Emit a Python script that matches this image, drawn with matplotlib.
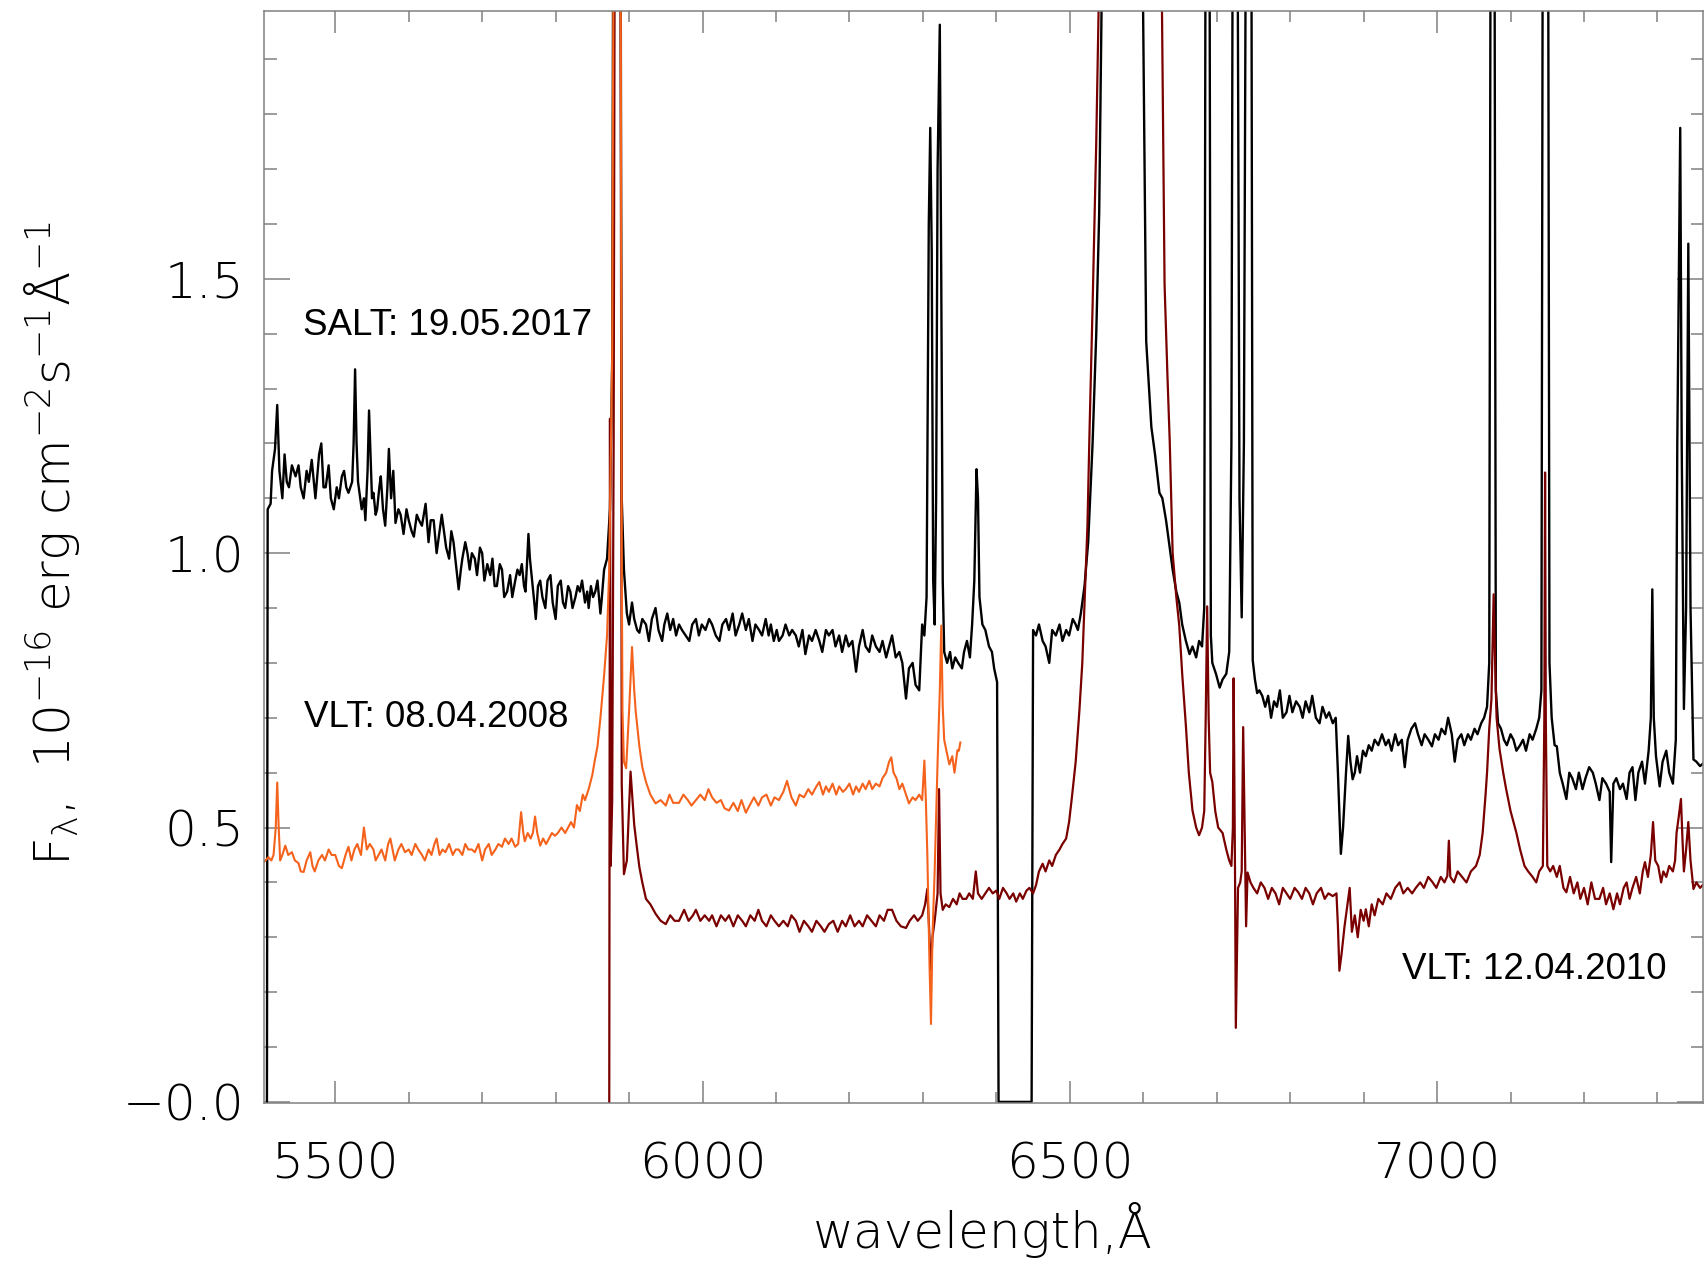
import numpy as np
import matplotlib
matplotlib.use("Agg")
import matplotlib.pyplot as plt
from matplotlib.ticker import MultipleLocator, FixedLocator, FixedFormatter

# spectra: (wavelength [A], flux [1e-16 erg cm-2 s-1 A-1])
salt_2017 = [
    (5407, 0.0), (5408, 1.08), (5412, 1.09), (5414, 1.15), (5418, 1.19), (5421, 1.27), (5424, 1.15),
    (5428, 1.10), (5431, 1.18), (5434, 1.13), (5437, 1.12), (5441, 1.16), (5446, 1.14), (5450, 1.16),
    (5453, 1.12), (5457, 1.10), (5461, 1.15), (5464, 1.13), (5468, 1.17), (5473, 1.10), (5478, 1.18),
    (5481, 1.20), (5484, 1.12), (5487, 1.12), (5491, 1.16), (5494, 1.10), (5498, 1.08), (5502, 1.12),
    (5505, 1.10), (5509, 1.14), (5512, 1.15), (5515, 1.12), (5518, 1.11), (5523, 1.13), (5525, 1.20),
    (5527, 1.335), (5529, 1.20), (5531, 1.13), (5534, 1.10), (5536, 1.08), (5539, 1.10), (5541, 1.06),
    (5544, 1.15), (5546, 1.26), (5548, 1.18), (5550, 1.10), (5552, 1.11), (5555, 1.07), (5557, 1.08),
    (5560, 1.12), (5562, 1.14), (5565, 1.08), (5568, 1.05), (5571, 1.12), (5573, 1.19), (5576, 1.10),
    (5579, 1.15), (5582, 1.055), (5586, 1.08), (5589, 1.07), (5593, 1.035), (5597, 1.08), (5600, 1.06),
    (5604, 1.04), (5607, 1.03), (5611, 1.07), (5614, 1.06), (5618, 1.05), (5623, 1.09), (5627, 1.02),
    (5630, 1.06), (5634, 1.06), (5638, 1.00), (5641, 1.03), (5645, 1.07), (5648, 1.04), (5651, 1.01),
    (5655, 0.99), (5658, 1.04), (5661, 1.02), (5665, 0.97), (5668, 0.934), (5671, 0.97), (5673, 0.99),
    (5677, 1.02), (5680, 1.00), (5683, 0.97), (5686, 1.00), (5690, 0.99), (5693, 0.96), (5697, 1.01),
    (5700, 1.00), (5703, 0.95), (5707, 0.98), (5711, 0.96), (5714, 0.99), (5717, 0.94), (5720, 0.94),
    (5724, 0.98), (5727, 0.97), (5730, 0.92), (5734, 0.93), (5738, 0.96), (5741, 0.92), (5745, 0.95),
    (5748, 0.97), (5751, 0.96), (5754, 0.98), (5757, 0.94), (5759, 0.93), (5761, 0.98), (5763, 1.035),
    (5765, 0.99), (5768, 0.95), (5771, 0.91), (5773, 0.88), (5776, 0.94), (5779, 0.95), (5782, 0.92),
    (5786, 0.90), (5789, 0.95), (5793, 0.96), (5796, 0.91), (5800, 0.88), (5803, 0.94), (5807, 0.95),
    (5810, 0.91), (5813, 0.90), (5817, 0.94), (5820, 0.93), (5823, 0.90), (5827, 0.92), (5830, 0.94),
    (5833, 0.93), (5836, 0.95), (5840, 0.91), (5843, 0.93), (5845, 0.90), (5848, 0.94), (5851, 0.92),
    (5854, 0.93), (5857, 0.95), (5861, 0.89), (5863, 0.92), (5866, 0.97), (5870, 0.99), (5874, 1.08),
    (5877, 1.35), (5879, 2.5), (5884, 2.5), (5888, 2.5), (5890, 1.10), (5893, 0.97), (5897, 0.89),
    (5900, 0.87), (5904, 0.91), (5907, 0.88), (5911, 0.86), (5914, 0.855), (5918, 0.88), (5923, 0.87),
    (5927, 0.84), (5931, 0.88), (5936, 0.90), (5940, 0.86), (5945, 0.84), (5948, 0.87), (5952, 0.89),
    (5956, 0.86), (5960, 0.88), (5964, 0.85), (5968, 0.87), (5972, 0.86), (5977, 0.85), (5982, 0.84),
    (5986, 0.87), (5991, 0.88), (5995, 0.85), (5999, 0.87), (6004, 0.86), (6009, 0.88), (6013, 0.87),
    (6018, 0.85), (6023, 0.84), (6027, 0.87), (6032, 0.88), (6036, 0.86), (6041, 0.89), (6045, 0.85),
    (6050, 0.87), (6054, 0.89), (6059, 0.86), (6063, 0.88), (6068, 0.84), (6072, 0.87), (6077, 0.86),
    (6081, 0.85), (6086, 0.88), (6090, 0.85), (6093, 0.87), (6097, 0.84), (6101, 0.86), (6104, 0.84),
    (6109, 0.85), (6113, 0.87), (6118, 0.85), (6122, 0.86), (6127, 0.85), (6131, 0.83), (6136, 0.86),
    (6140, 0.816), (6145, 0.85), (6149, 0.84), (6154, 0.86), (6159, 0.84), (6163, 0.82), (6168, 0.86),
    (6172, 0.85), (6177, 0.86), (6181, 0.83), (6186, 0.85), (6190, 0.82), (6195, 0.85), (6199, 0.83),
    (6204, 0.84), (6209, 0.784), (6213, 0.83), (6218, 0.86), (6222, 0.83), (6227, 0.82), (6231, 0.85),
    (6236, 0.83), (6241, 0.82), (6245, 0.84), (6250, 0.81), (6254, 0.83), (6258, 0.85), (6263, 0.81),
    (6268, 0.82), (6272, 0.80), (6277, 0.735), (6281, 0.79), (6286, 0.80), (6290, 0.76), (6295, 0.75),
    (6299, 0.87), (6302, 0.85), (6305, 0.92), (6308, 1.60), (6310, 1.775), (6312, 1.55), (6314, 0.95),
    (6316, 0.87), (6318, 1.10), (6320, 1.70), (6323, 1.963), (6325, 1.50), (6327, 0.95), (6329, 0.82),
    (6333, 0.80), (6337, 0.82), (6340, 0.79), (6344, 0.81), (6348, 0.80), (6353, 0.79), (6356, 0.82),
    (6360, 0.84), (6364, 0.81), (6367, 0.87), (6370, 0.95), (6373, 1.153), (6375, 1.10), (6377, 0.92),
    (6381, 0.87), (6385, 0.86), (6390, 0.83), (6394, 0.82), (6397, 0.79), (6401, 0.765), (6403, 0.0),
    (6448, 0.0), (6450, 0.86), (6454, 0.85), (6458, 0.87), (6463, 0.84), (6467, 0.83), (6472, 0.80),
    (6476, 0.86), (6481, 0.85), (6486, 0.87), (6490, 0.84), (6495, 0.86), (6499, 0.85), (6504, 0.88),
    (6508, 0.87), (6511, 0.86), (6515, 0.89), (6520, 0.94), (6525, 1.02), (6531, 1.20), (6536, 1.40),
    (6540, 1.62), (6545, 2.2), (6560, 3.0), (6590, 3.0), (6599, 2.1), (6604, 1.386), (6611, 1.23),
    (6616, 1.18), (6622, 1.11), (6626, 1.10), (6631, 1.06), (6635, 1.02), (6640, 0.97), (6645, 0.93),
    (6649, 0.91), (6653, 0.87), (6658, 0.84), (6663, 0.816), (6667, 0.83), (6672, 0.81), (6676, 0.84),
    (6680, 0.83), (6683, 0.90), (6685, 2.3), (6690, 2.3), (6692, 0.85), (6694, 0.80), (6699, 0.78),
    (6704, 0.755), (6708, 0.77), (6713, 0.78), (6717, 0.82), (6720, 1.20), (6722, 2.3), (6728, 2.3),
    (6731, 1.10), (6734, 0.883), (6737, 1.20), (6740, 2.3), (6747, 2.3), (6749, 0.805), (6752, 0.77),
    (6755, 0.745), (6758, 0.75), (6762, 0.74), (6766, 0.72), (6770, 0.74), (6774, 0.70), (6778, 0.73),
    (6782, 0.72), (6786, 0.75), (6790, 0.70), (6795, 0.71), (6799, 0.74), (6803, 0.71), (6808, 0.73),
    (6813, 0.72), (6817, 0.70), (6821, 0.73), (6826, 0.71), (6830, 0.74), (6835, 0.70), (6840, 0.69),
    (6844, 0.72), (6849, 0.70), (6853, 0.71), (6858, 0.69), (6862, 0.70), (6865, 0.60), (6869, 0.452),
    (6872, 0.50), (6876, 0.60), (6879, 0.667), (6882, 0.62), (6885, 0.588), (6888, 0.60), (6891, 0.63),
    (6895, 0.60), (6899, 0.64), (6903, 0.63), (6907, 0.65), (6911, 0.64), (6915, 0.66), (6920, 0.65),
    (6925, 0.67), (6930, 0.65), (6934, 0.66), (6938, 0.64), (6943, 0.67), (6947, 0.65), (6952, 0.66),
    (6956, 0.61), (6960, 0.66), (6965, 0.68), (6970, 0.69), (6974, 0.67), (6979, 0.65), (6983, 0.67),
    (6988, 0.66), (6993, 0.648), (6997, 0.67), (7002, 0.66), (7006, 0.68), (7011, 0.67), (7015, 0.70),
    (7020, 0.67), (7024, 0.62), (7028, 0.66), (7033, 0.67), (7037, 0.65), (7042, 0.67), (7046, 0.66),
    (7051, 0.68), (7055, 0.67), (7060, 0.69), (7064, 0.70), (7068, 0.72), (7071, 0.80), (7073, 2.3),
    (7078, 2.3), (7080, 0.75), (7083, 0.69), (7087, 0.68), (7091, 0.66), (7095, 0.65), (7100, 0.67),
    (7104, 0.66), (7108, 0.64), (7113, 0.65), (7117, 0.66), (7121, 0.64), (7126, 0.67), (7130, 0.66),
    (7135, 0.68), (7139, 0.70), (7142, 0.75), (7144, 2.3), (7151, 2.3), (7153, 0.80), (7156, 0.70),
    (7160, 0.65), (7163, 0.648), (7167, 0.60), (7171, 0.58), (7176, 0.552), (7180, 0.60), (7184, 0.59),
    (7189, 0.57), (7193, 0.60), (7198, 0.57), (7202, 0.59), (7207, 0.61), (7212, 0.60), (7216, 0.58),
    (7221, 0.55), (7225, 0.59), (7230, 0.58), (7235, 0.565), (7237, 0.437), (7240, 0.58), (7244, 0.59),
    (7249, 0.57), (7253, 0.58), (7258, 0.552), (7262, 0.60), (7266, 0.61), (7270, 0.55), (7274, 0.60),
    (7279, 0.62), (7283, 0.58), (7288, 0.64), (7291, 0.70), (7293, 0.934), (7295, 0.70), (7298, 0.63),
    (7303, 0.575), (7307, 0.62), (7312, 0.64), (7316, 0.60), (7321, 0.58), (7325, 0.66), (7327, 1.20),
    (7331, 1.775), (7333, 1.20), (7336, 0.716), (7339, 0.90), (7342, 1.564), (7345, 0.90), (7349, 0.624),
    (7353, 0.62), (7358, 0.612), (7365, 0.62),
]

vlt_2010 = [
    (5873, -0.02), (5874, 1.245), (5875, 0.43), (5877, 0.55), (5879, 1.2), (5881, 2.5), (5888, 2.5),
    (5890, 0.58), (5893, 0.415), (5897, 0.44), (5902, 0.602), (5907, 0.505), (5911, 0.46), (5914, 0.428),
    (5918, 0.40), (5923, 0.37), (5929, 0.36), (5936, 0.343), (5943, 0.33), (5950, 0.324), (5956, 0.34),
    (5962, 0.33), (5968, 0.33), (5975, 0.35), (5981, 0.33), (5987, 0.34), (5991, 0.35), (5997, 0.33),
    (6003, 0.34), (6009, 0.33), (6013, 0.34), (6019, 0.32), (6025, 0.34), (6031, 0.33), (6036, 0.34),
    (6042, 0.32), (6048, 0.34), (6054, 0.33), (6059, 0.32), (6065, 0.34), (6071, 0.33), (6076, 0.35),
    (6081, 0.33), (6087, 0.32), (6093, 0.34), (6098, 0.33), (6104, 0.32), (6110, 0.33), (6116, 0.32),
    (6121, 0.34), (6127, 0.33), (6132, 0.31), (6138, 0.33), (6144, 0.32), (6149, 0.31), (6155, 0.33),
    (6161, 0.32), (6166, 0.31), (6172, 0.324), (6178, 0.33), (6184, 0.31), (6190, 0.33), (6195, 0.32),
    (6201, 0.34), (6207, 0.32), (6213, 0.33), (6218, 0.32), (6224, 0.34), (6230, 0.33), (6236, 0.32),
    (6241, 0.34), (6247, 0.33), (6252, 0.35), (6258, 0.35), (6264, 0.33), (6270, 0.32), (6277, 0.317),
    (6282, 0.33), (6288, 0.34), (6293, 0.33), (6299, 0.34), (6303, 0.36), (6306, 0.388), (6309, 0.30),
    (6311, 0.24), (6313, 0.30), (6316, 0.33), (6320, 0.38), (6322, 0.57), (6324, 0.38), (6327, 0.35),
    (6331, 0.36), (6336, 0.355), (6341, 0.37), (6346, 0.36), (6350, 0.38), (6354, 0.37), (6359, 0.37),
    (6363, 0.38), (6368, 0.37), (6372, 0.42), (6375, 0.38), (6380, 0.37), (6385, 0.38), (6390, 0.39),
    (6395, 0.38), (6400, 0.385), (6404, 0.37), (6409, 0.39), (6414, 0.38), (6418, 0.37), (6423, 0.38),
    (6427, 0.365), (6432, 0.38), (6436, 0.37), (6441, 0.385), (6445, 0.39), (6450, 0.38), (6454, 0.395),
    (6458, 0.42), (6463, 0.434), (6467, 0.42), (6472, 0.44), (6476, 0.43), (6481, 0.45), (6486, 0.46),
    (6490, 0.47), (6495, 0.48), (6499, 0.51), (6503, 0.557), (6508, 0.62), (6513, 0.712), (6517, 0.80),
    (6520, 0.907), (6524, 1.05), (6527, 1.231), (6531, 1.45), (6536, 1.75), (6542, 2.2), (6560, 3.0),
    (6610, 3.0), (6624, 2.2), (6629, 1.49), (6633, 1.32), (6636, 1.205), (6640, 1.0), (6645, 0.92),
    (6649, 0.868), (6653, 0.78), (6658, 0.686), (6662, 0.60), (6667, 0.531), (6672, 0.50), (6676, 0.486),
    (6680, 0.50), (6683, 0.53), (6685, 0.70), (6687, 0.903), (6689, 0.70), (6691, 0.60), (6694, 0.583),
    (6698, 0.53), (6702, 0.50), (6708, 0.49), (6713, 0.46), (6717, 0.44), (6720, 0.43), (6722, 0.50),
    (6723, 0.772), (6725, 0.40), (6726, 0.135), (6728, 0.30), (6729, 0.39), (6732, 0.40), (6734, 0.42),
    (6736, 0.683), (6738, 0.50), (6740, 0.32), (6742, 0.418), (6746, 0.40), (6750, 0.39), (6755, 0.38),
    (6760, 0.40), (6765, 0.39), (6770, 0.37), (6775, 0.39), (6780, 0.38), (6785, 0.36), (6790, 0.39),
    (6795, 0.38), (6800, 0.37), (6806, 0.39), (6811, 0.382), (6816, 0.37), (6821, 0.39), (6826, 0.38),
    (6831, 0.36), (6836, 0.38), (6842, 0.39), (6847, 0.37), (6852, 0.38), (6858, 0.375), (6863, 0.38),
    (6865, 0.32), (6867, 0.239), (6870, 0.27), (6874, 0.32), (6878, 0.36), (6881, 0.39), (6884, 0.31),
    (6888, 0.34), (6892, 0.30), (6896, 0.35), (6900, 0.33), (6903, 0.351), (6907, 0.32), (6911, 0.36),
    (6915, 0.34), (6920, 0.37), (6926, 0.36), (6931, 0.38), (6937, 0.37), (6943, 0.39), (6949, 0.40),
    (6954, 0.38), (6960, 0.39), (6966, 0.38), (6971, 0.39), (6977, 0.40), (6982, 0.39), (6988, 0.41),
    (6994, 0.40), (6999, 0.39), (7005, 0.41), (7010, 0.40), (7014, 0.412), (7016, 0.476), (7018, 0.41),
    (7023, 0.40), (7028, 0.42), (7034, 0.41), (7040, 0.40), (7046, 0.42), (7053, 0.43), (7058, 0.45),
    (7062, 0.49), (7066, 0.56), (7068, 0.60), (7071, 0.68), (7074, 0.734), (7077, 0.925), (7079, 0.80),
    (7081, 0.70), (7085, 0.643), (7090, 0.60), (7094, 0.57), (7100, 0.53), (7108, 0.49), (7113, 0.46),
    (7119, 0.43), (7124, 0.42), (7130, 0.41), (7135, 0.40), (7139, 0.42), (7144, 0.43), (7146, 0.70),
    (7147, 1.147), (7148, 0.70), (7150, 0.43), (7154, 0.42), (7158, 0.43), (7163, 0.41), (7167, 0.43),
    (7172, 0.39), (7176, 0.382), (7181, 0.41), (7186, 0.38), (7191, 0.40), (7195, 0.37), (7200, 0.39),
    (7205, 0.36), (7210, 0.40), (7215, 0.37), (7221, 0.37), (7226, 0.39), (7230, 0.36), (7235, 0.38),
    (7240, 0.351), (7245, 0.38), (7249, 0.36), (7254, 0.39), (7258, 0.40), (7262, 0.37), (7266, 0.39),
    (7271, 0.41), (7276, 0.38), (7280, 0.42), (7283, 0.437), (7287, 0.41), (7291, 0.45), (7294, 0.51),
    (7297, 0.44), (7301, 0.43), (7305, 0.40), (7308, 0.42), (7312, 0.41), (7316, 0.43), (7321, 0.42),
    (7324, 0.44), (7326, 0.49), (7329, 0.52), (7332, 0.552), (7334, 0.48), (7336, 0.42), (7339, 0.46),
    (7342, 0.51), (7345, 0.44), (7349, 0.388), (7353, 0.40), (7358, 0.39), (7365, 0.40),
]

vlt_2008 = [
    (5400, 0.433), (5405, 0.44), (5409, 0.446), (5413, 0.44), (5416, 0.45), (5419, 0.50), (5421, 0.582),
    (5423, 0.50), (5425, 0.44), (5428, 0.45), (5432, 0.467), (5436, 0.45), (5441, 0.455), (5445, 0.44),
    (5450, 0.435), (5453, 0.42), (5457, 0.419), (5461, 0.44), (5466, 0.455), (5469, 0.43), (5472, 0.42),
    (5477, 0.44), (5482, 0.45), (5486, 0.44), (5491, 0.46), (5495, 0.45), (5500, 0.45), (5505, 0.43),
    (5509, 0.426), (5514, 0.45), (5518, 0.465), (5522, 0.44), (5526, 0.46), (5530, 0.47), (5535, 0.45),
    (5539, 0.50), (5543, 0.46), (5547, 0.47), (5552, 0.46), (5555, 0.44), (5559, 0.45), (5563, 0.46),
    (5568, 0.44), (5572, 0.47), (5575, 0.48), (5578, 0.46), (5581, 0.44), (5586, 0.46), (5590, 0.47),
    (5595, 0.455), (5600, 0.46), (5604, 0.45), (5609, 0.47), (5613, 0.46), (5618, 0.45), (5622, 0.44),
    (5627, 0.46), (5631, 0.45), (5635, 0.47), (5638, 0.48), (5642, 0.45), (5646, 0.46), (5650, 0.455),
    (5655, 0.47), (5660, 0.45), (5664, 0.46), (5668, 0.46), (5673, 0.45), (5677, 0.47), (5681, 0.46),
    (5686, 0.46), (5690, 0.455), (5695, 0.47), (5700, 0.44), (5704, 0.46), (5709, 0.47), (5713, 0.45),
    (5718, 0.46), (5722, 0.47), (5727, 0.465), (5731, 0.48), (5736, 0.47), (5740, 0.48), (5745, 0.465),
    (5749, 0.47), (5753, 0.528), (5756, 0.49), (5758, 0.475), (5762, 0.49), (5766, 0.48), (5769, 0.49),
    (5772, 0.52), (5775, 0.49), (5779, 0.467), (5783, 0.48), (5787, 0.47), (5791, 0.48), (5795, 0.49),
    (5799, 0.485), (5803, 0.49), (5808, 0.50), (5813, 0.49), (5817, 0.50), (5821, 0.51), (5825, 0.50),
    (5829, 0.541), (5833, 0.53), (5837, 0.56), (5840, 0.55), (5845, 0.57), (5850, 0.596), (5853, 0.62),
    (5857, 0.648), (5861, 0.70), (5866, 0.777), (5870, 0.85), (5873, 0.972), (5877, 1.36), (5879, 2.2),
    (5881, 2.5), (5888, 2.5), (5890, 1.0), (5891, 0.712), (5893, 0.62), (5896, 0.608), (5900, 0.712),
    (5904, 0.829), (5907, 0.75), (5909, 0.712), (5914, 0.648), (5918, 0.61), (5923, 0.583), (5929, 0.56),
    (5936, 0.544), (5943, 0.55), (5950, 0.54), (5955, 0.56), (5960, 0.545), (5968, 0.545), (5974, 0.56),
    (5980, 0.55), (5985, 0.54), (5991, 0.55), (5997, 0.56), (6003, 0.55), (6008, 0.57), (6013, 0.555),
    (6019, 0.545), (6025, 0.55), (6030, 0.535), (6036, 0.531), (6042, 0.545), (6048, 0.53), (6053, 0.55),
    (6059, 0.527), (6064, 0.54), (6070, 0.555), (6076, 0.54), (6081, 0.555), (6087, 0.56), (6093, 0.54),
    (6098, 0.555), (6104, 0.55), (6110, 0.565), (6115, 0.585), (6121, 0.555), (6127, 0.54), (6132, 0.56),
    (6138, 0.555), (6144, 0.57), (6149, 0.56), (6155, 0.575), (6159, 0.583), (6164, 0.56), (6168, 0.575),
    (6172, 0.565), (6177, 0.58), (6182, 0.56), (6186, 0.575), (6191, 0.565), (6195, 0.57), (6200, 0.58),
    (6205, 0.56), (6209, 0.575), (6213, 0.565), (6218, 0.58), (6222, 0.57), (6227, 0.585), (6231, 0.57),
    (6236, 0.58), (6241, 0.575), (6245, 0.59), (6250, 0.60), (6254, 0.62), (6257, 0.628), (6260, 0.60),
    (6264, 0.59), (6268, 0.57), (6272, 0.58), (6277, 0.56), (6281, 0.544), (6286, 0.555), (6290, 0.55),
    (6295, 0.56), (6299, 0.55), (6302, 0.622), (6304, 0.55), (6306, 0.453), (6309, 0.25), (6311, 0.142),
    (6313, 0.30), (6316, 0.42), (6320, 0.62), (6323, 0.75), (6325, 0.868), (6327, 0.72), (6329, 0.66),
    (6332, 0.64), (6336, 0.615), (6340, 0.63), (6343, 0.60), (6345, 0.62), (6347, 0.641), (6349, 0.64),
    (6351, 0.655),
]

labels = ["SALT: 19.05.2017", "VLT: 08.04.2008", "VLT: 12.04.2010"]
label_pos = [(5456, 1.398), (5457, 0.683), (6952, 0.224)]

x_ticks = [5500, 6000, 6500, 7000]
y_ticks = [0.0, 0.5, 1.0, 1.5]
y_ticklabels = ["\u22120.0", "0.5", "1.0", "1.5"]

plt.rcParams["font.family"] = ["DejaVu Sans"]
plt.rcParams["mathtext.default"] = "regular"

fig = plt.figure(figsize=(17.04, 12.62), dpi=100)
ax = fig.add_axes([264 / 1704, 1 - 1103 / 1262, 1439 / 1704, 1092 / 1262])

w, f = np.array(salt_2017).T
ax.plot(w, f, color="black", lw=1.7)
w, f = np.array(vlt_2010).T
ax.plot(w, f, color="#7a0000", lw=1.6)
w, f = np.array(vlt_2008).T
ax.plot(w, f, color="#f4621c", lw=1.5)

ax.set_xlim(5403, 7362)
ax.set_ylim(-0.002, 1.988)

gray = "#808080"
for s in ax.spines.values():
    s.set_color(gray)
    s.set_linewidth(1.1)

ax.xaxis.set_major_locator(FixedLocator(x_ticks))
ax.xaxis.set_minor_locator(MultipleLocator(100))
ax.yaxis.set_major_locator(FixedLocator(y_ticks))
ax.yaxis.set_major_formatter(FixedFormatter(y_ticklabels))
ax.yaxis.set_minor_locator(MultipleLocator(0.1))
ax.tick_params(which="both", direction="in", top=True, right=True, color=gray, width=1.1)
ax.tick_params(axis="x", which="major", length=16, labelsize=36, pad=27)
ax.tick_params(axis="x", which="minor", length=8)
ax.tick_params(axis="y", which="major", length=19, labelsize=36, pad=14)
ax.tick_params(axis="y", which="minor", length=9)
for lab in ax.get_xticklabels() + ax.get_yticklabels():
    lab.set_fontweight("light")

for txt, (lx, ly) in zip(labels, label_pos):
    ax.text(lx, ly, txt, family="Liberation Sans", fontsize=26.5, va="baseline", ha="left")

fig.text(983 / 1704, 1 - 1230 / 1262, "wavelength,\u00c5", fontsize=36, fontweight="light",
         ha="center", va="center")
fig.text(52 / 1704, 1 - 544 / 1262,
         r"F$_\lambda$,  10$^{-16}$ erg cm$^{-2}$s$^{-1}$$\AA$$^{-1}$",
         fontsize=36, fontweight="light", rotation=90, ha="center", va="center")

fig.savefig("out.png", dpi=100)
